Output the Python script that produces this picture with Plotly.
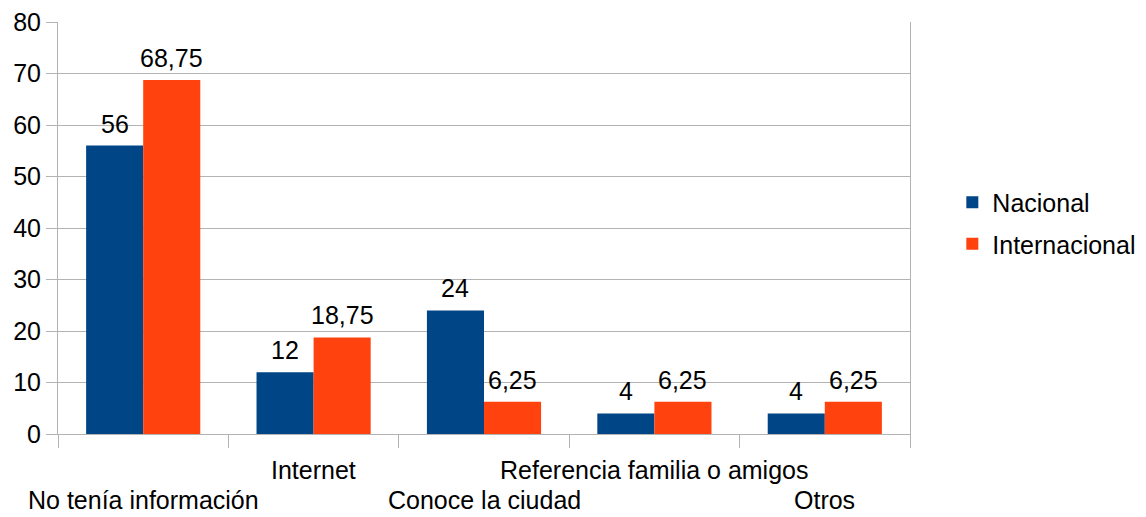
import plotly.graph_objects as go

categories = ["No tenía información", "Internet", "Conoce la ciudad",
              "Referencia familia o amigos", "Otros"]
nacional = [56, 12, 24, 4, 4]
internacional = [68.75, 18.75, 6.25, 6.25, 6.25]
series_names = ["Nacional", "Internacional"]
colors = ["#004586", "#ff420e"]
y_ticks = [0, 10, 20, 30, 40, 50, 60, 70, 80]

FONT = "Liberation Sans, Arial, sans-serif"
FS = 25

W, H = 1146, 517
ML, MR, MT, MB = 58, 236, 22, 83
BARGAP = 0.33


def fmt(v):
    s = ("%g" % v)
    return s.replace(".", ",")


all_series = [nacional, internacional]
fig = go.Figure()
for name, vals, col in zip(series_names, all_series, colors):
    fig.add_trace(go.Bar(
        x=categories, y=vals, name=name, marker_color=col,
        marker_line_width=0, legendgroup=name, hoverinfo="x+y",
    ))

# data labels above bars (offset per series within the group)
plot_w = W - ML - MR
cat_px = plot_w / len(categories)
bar_px = cat_px * (1 - BARGAP) / len(all_series)
annotations = []
for si, vals in enumerate(all_series):
    xs = (si - (len(all_series) - 1) / 2) * bar_px
    for c, v in zip(categories, vals):
        annotations.append(dict(
            x=c, xref="x", y=v, yref="y", text=fmt(v), showarrow=False,
            xanchor="center", yanchor="middle", xshift=xs, yshift=22,
            font=dict(size=FS, color="#000000", family=FONT),
        ))

# staggered category labels
for i, c in enumerate(categories):
    annotations.append(dict(
        x=c, xref="x", y=(-0.087 if i % 2 == 1 else -0.16), yref="paper",
        text=c, showarrow=False, yanchor="middle", xanchor="center",
        font=dict(size=FS, color="#000000", family=FONT),
    ))

fig.update_layout(
    width=W, height=H,
    margin=dict(l=ML, r=MR, t=MT, b=MB, autoexpand=False),
    paper_bgcolor="white", plot_bgcolor="white",
    barmode="group", bargap=BARGAP, bargroupgap=0,
    font=dict(family=FONT, size=FS, color="#000000"),
    showlegend=True,
    legend=dict(x=0.831, xref="container", y=0.512, xanchor="left",
                yanchor="middle",
                font=dict(size=FS, family=FONT, color="#000000"),
                traceorder="grouped", tracegroupgap=6,
                bgcolor="rgba(0,0,0,0)"),
    xaxis=dict(type="category", range=[-0.5, len(categories) - 0.5],
               showticklabels=False, tickson="boundaries",
               ticks="outside", ticklen=13, tickcolor="#b3b3b3",
               showgrid=False, showline=True, linecolor="#b3b3b3",
               linewidth=1, zeroline=False),
    yaxis=dict(range=[0, 80], tickvals=y_ticks,
               ticktext=[str(t) for t in y_ticks],
               showgrid=True, gridcolor="#b3b3b3", gridwidth=1,
               ticks="outside", ticklen=11, tickcolor="#b3b3b3",
               showline=True, mirror=True, linecolor="#b3b3b3",
               linewidth=1, zeroline=False, automargin=False,
               tickfont=dict(size=FS, family=FONT, color="#000000")),
    annotations=annotations,
)

fig.write_html("out.html", config={"displayModeBar": False},
               post_script="document.body.style.margin='0';document.body.style.padding='0';")
